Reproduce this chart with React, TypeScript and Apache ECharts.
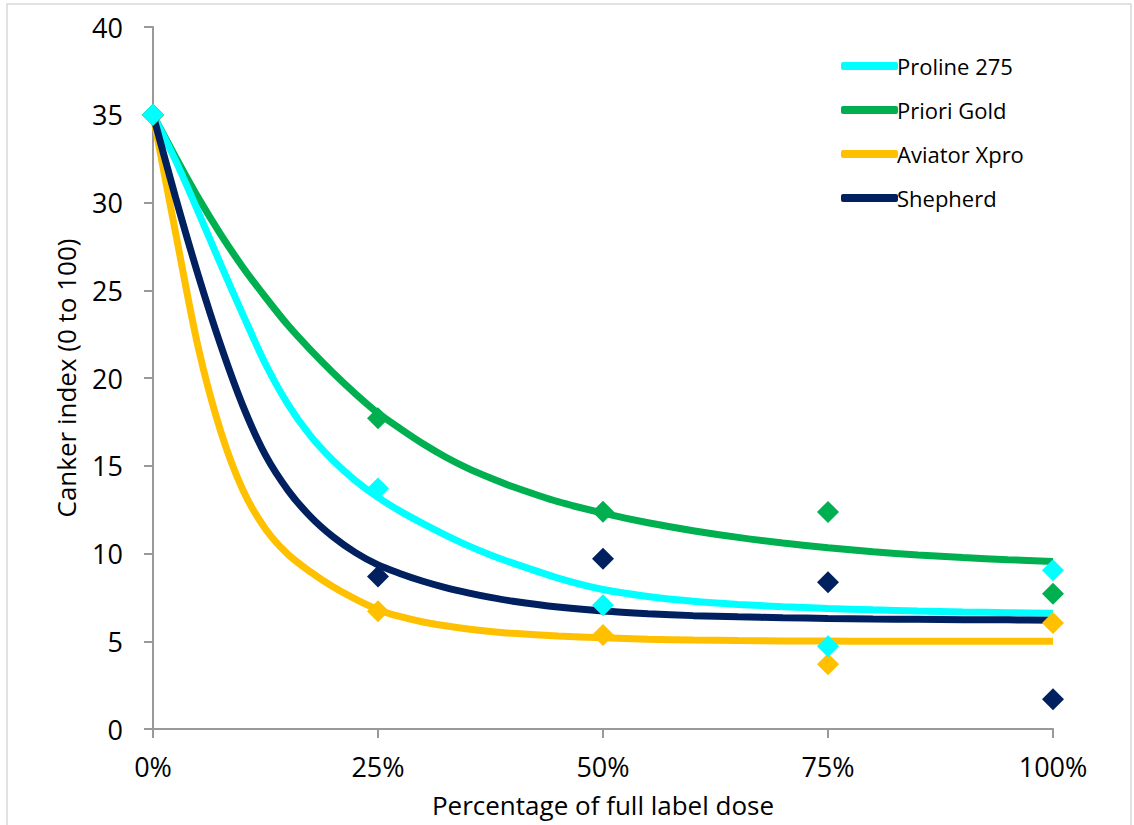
import React, { useEffect, useRef } from "react";
import * as echarts from "echarts";

const DOSE = [0, 25, 50, 75, 100];
const X_TICKS = ["0%", "25%", "50%", "75%", "100%"];

const PROLINE_PTS = [35, 13.7, 7.05, 4.72, 9.05];
const PRIORI_PTS = [35, 17.7, 12.38, 12.37, 7.7];
const AVIATOR_PTS = [35, 6.71, 5.36, 3.69, 6.04];
const SHEPHERD_PTS = [35, 8.69, 9.7, 8.36, 1.7];

const CURVE_X = [0, 2.5, 5, 7.5, 10, 12.5, 15, 17.5, 20, 22.5, 25, 27.5, 30, 32.5, 35, 37.5, 40, 45, 50, 55, 60, 65, 70, 75, 80, 85, 90, 95, 100];
const PROLINE_FIT = [35, 32.4, 29.5, 26.5, 23.6, 20.8, 18.5, 16.7, 15.3, 14.15, 13.2, 12.4, 11.7, 11.05, 10.45, 9.92, 9.45, 8.6, 7.95, 7.55, 7.28, 7.1, 6.97, 6.87, 6.79, 6.72, 6.67, 6.63, 6.6];
const PRIORI_FIT = [35, 32.6, 30.3, 28.2, 26.3, 24.6, 23.0, 21.6, 20.3, 19.1, 18.0, 17.1, 16.25, 15.5, 14.85, 14.3, 13.8, 12.95, 12.3, 11.75, 11.3, 10.92, 10.6, 10.33, 10.1, 9.92, 9.77, 9.65, 9.55];
const AVIATOR_FIT = [35, 28.3, 21.8, 17.0, 13.6, 11.4, 9.95, 8.95, 8.1, 7.4, 6.8, 6.4, 6.1, 5.88, 5.7, 5.56, 5.45, 5.3, 5.2, 5.12, 5.07, 5.04, 5.02, 5.01, 5.0, 5.0, 5.0, 5.0, 5.0];
const SHEPHERD_FIT = [35, 30.3, 25.9, 21.9, 18.4, 15.6, 13.6, 12.1, 10.95, 10.05, 9.35, 8.85, 8.42, 8.06, 7.76, 7.5, 7.28, 6.95, 6.72, 6.57, 6.46, 6.39, 6.34, 6.3, 6.27, 6.25, 6.23, 6.22, 6.2];

const NAMES = ["Proline 275", "Priori Gold", "Aviator Xpro", "Shepherd"];
const COLORS = ["#00FFFF", "#00B050", "#FFC000", "#002060"];

const FONT = "'Open Sans', 'Noto Sans', sans-serif";

export default function App() {
  const ref = useRef<HTMLDivElement>(null);

  useEffect(() => {
    document.body.style.margin = "0";
    if (!ref.current) return;
    const chart = echarts.init(ref.current, undefined, { renderer: "svg" });

    const fits = [PROLINE_FIT, PRIORI_FIT, AVIATOR_FIT, SHEPHERD_FIT];
    const pts = [PROLINE_PTS, PRIORI_PTS, AVIATOR_PTS, SHEPHERD_PTS];
    const pair = (xs: number[], ys: number[]) => xs.map((x, i) => [x, ys[i]]);

    const lineOrder = [1, 0, 2, 3];
    const scatterOrder = [3, 2, 1, 0];

    const lineSeries = lineOrder.map((i) => ({
      name: NAMES[i],
      type: "line",
      data: pair(CURVE_X, fits[i]),
      smooth: 0.3,
      symbol: "none",
      z: 2,
      lineStyle: { color: COLORS[i], width: 7, cap: "butt" },
      itemStyle: { color: COLORS[i] },
    }));

    const scatterSeries = scatterOrder.map((i) => ({
      name: NAMES[i] + " data",
      type: "scatter",
      data: pair(DOSE, pts[i]),
      symbol: "diamond",
      symbolSize: 22,
      z: 3,
      itemStyle: { color: COLORS[i], opacity: 1 },
    }));

    chart.setOption({
      animation: false,
      backgroundColor: "#ffffff",
      textStyle: { fontFamily: FONT },
      grid: { left: 153, top: 27, right: 81, bottom: 96 },
      graphic: [
        {
          type: "rect",
          shape: { x: 7, y: 4, width: 1124, height: 830 },
          style: { fill: "none", stroke: "#d9d9d9", lineWidth: 1.5 },
          silent: true,
        },
      ],
      legend: {
        data: NAMES.map((n) => ({ name: n, icon: "roundRect" })),
        orient: "vertical",
        left: 836,
        top: 48,
        itemWidth: 57,
        itemHeight: 8,
        itemGap: 18,
        textStyle: { fontFamily: FONT, fontSize: 22, color: "#000", lineHeight: 26, padding: [0, 0, 0, -6] },
      },
      xAxis: {
        type: "value",
        min: 0,
        max: 100,
        interval: 25,
        name: "Percentage of full label dose",
        nameLocation: "middle",
        nameGap: 63,
        nameTextStyle: { fontFamily: FONT, fontSize: 26, color: "#000" },
        axisLine: { show: true, onZero: false, lineStyle: { color: "#999999", width: 2 } },
        axisTick: { show: true, length: 9, lineStyle: { color: "#999999", width: 2 } },
        axisLabel: {
          fontFamily: FONT,
          fontSize: 27,
          color: "#000",
          margin: 24,
          formatter: (v: number) => X_TICKS[DOSE.indexOf(v)] ?? "",
        },
        splitLine: { show: false },
      },
      yAxis: {
        type: "value",
        min: 0,
        max: 40,
        interval: 5,
        name: "Canker index (0 to 100)",
        nameLocation: "middle",
        nameGap: 74,
        nameTextStyle: { fontFamily: FONT, fontSize: 26, color: "#000" },
        axisLine: { show: true, onZero: false, lineStyle: { color: "#999999", width: 2 } },
        axisTick: { show: true, length: 9, lineStyle: { color: "#999999", width: 2 } },
        axisLabel: { fontFamily: FONT, fontSize: 27, color: "#000", margin: 30 },
        splitLine: { show: false },
      },
      series: [...lineSeries, ...scatterSeries],
    });

    return () => {
      chart.dispose();
    };
  }, []);

  return <div ref={ref} style={{ width: 1134, height: 825 }} />;
}
